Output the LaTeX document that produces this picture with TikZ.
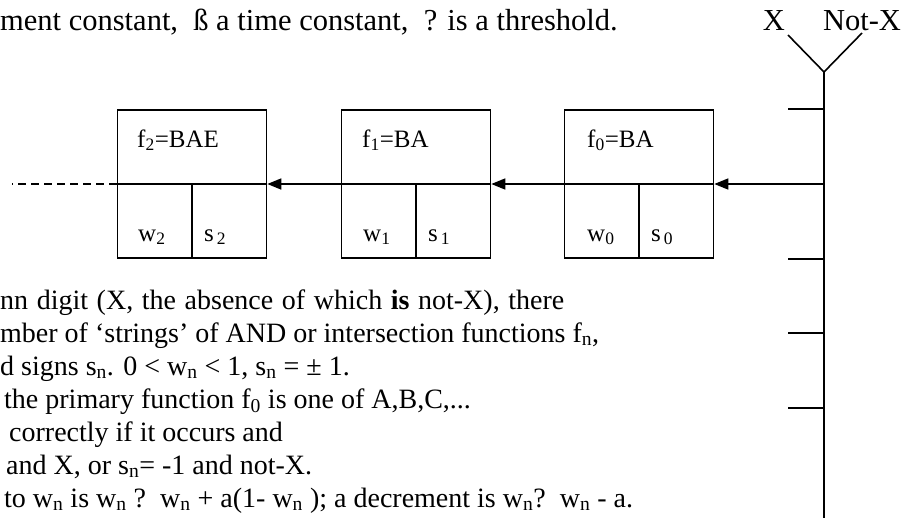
\documentclass[tikz,border=0pt]{standalone}
\usepackage{fontspec}
\setmainfont{Liberation Serif}
\usetikzlibrary{arrows.meta}
\tikzset{
  ln/.style={line width=1.6pt, black},
  fbox/.style={draw, line width=1.6pt, minimum width=149pt, minimum height=148pt, inner sep=0pt},
  arr/.style={ln, -{Triangle[length=14pt,width=11pt]}},
  boxlab/.style={anchor=base west, inner sep=0pt, font=\fontsize{25}{29}\selectfont},
  body/.style={anchor=base west, inner sep=0pt, font=\fontsize{28}{33}\selectfont},
  toptext/.style={anchor=base west, inner sep=0pt, font=\fontsize{30.5}{35}\selectfont},
}
\begin{document}
\begin{tikzpicture}[x=1pt,y=-1pt]
\useasboundingbox (0,0) rectangle (908,517);
\clip (0,0) rectangle (908,517);
% top text
\node[toptext] (t0) at (0,30) {ment constant,~~ß a time constant,~~? is a threshold.};
% Y junction
\coordinate (yj) at (824,72);
\coordinate (yl) at (788,35);
\coordinate (yr) at (862,33);
\coordinate (vb) at (824,520);
\node[toptext, anchor=base] (lx) at (774,30) {X};
\node[toptext, anchor=base] (lnx) at (862,30) {Not-X};
\draw[ln] (yl) -- (yj) -- (yr);
\draw[ln] (yj) -- (vb);
\foreach \yy/\nm in {109/a,184/b,259/c,333/d,408/e}{
  \coordinate (tk\nm) at (788,\yy);
  \coordinate (tv\nm) at (824,\yy);
  \draw[ln] (tk\nm) -- (tv\nm);
}
% boxes
\node[fbox] (f2) at (192,184) {};
\node[fbox] (f1) at (416,184) {};
\node[fbox] (f0) at (639,184) {};
\foreach \b in {f2,f1,f0}{
  \draw[ln] (\b.west) -- (\b.east);
  \draw[ln] (\b.center) -- (\b.south);
}
\node[boxlab] (l2) at (137,147) {f\textsubscript{2}=BAE};
\node[boxlab] (l1) at (362,147) {f\textsubscript{1}=BA};
\node[boxlab] (l0) at (587,147) {f\textsubscript{0}=BA};
\node[boxlab] (w2) at (138,241) {w\textsubscript{2}};
\node[boxlab] (s2) at (204,241) {s\textsubscript{\,2}};
\node[boxlab] (w1) at (363,241) {w\textsubscript{1}};
\node[boxlab] (s1) at (428,241) {s\textsubscript{\,1}};
\node[boxlab] (w0) at (587,241) {w\textsubscript{0}};
\node[boxlab] (s0) at (651,241) {s\textsubscript{\,0}};
% arrows
\draw[arr] (tvb) -- (f0.east);
\draw[arr] (f0.west) -- (f1.east);
\draw[arr] (f1.west) -- (f2.east);
\coordinate (dend) at (12,184);
\draw[ln, dash pattern=on 8pt off 5pt] (f2.west) -- (dend);
% bottom text
\node[body] (b1) at (0,309) {\spaceskip=8.6pt nn digit (X, the absence of which \textbf{is} not-X), there};
\node[body] (b2) at (0,342) {mber of ‘strings’ of AND or intersection functions f\textsubscript{n},};
\node[body] (b3) at (0,375) {d signs s\textsubscript{n}. 0 < w\textsubscript{n} < 1, s\textsubscript{n} = ± 1.};
\node[body] (b4) at (4,408) {the primary function f\textsubscript{0} is one of A,B,C,...};
\node[body] (b5) at (9,441) {correctly if it occurs and};
\node[body] (b6) at (6,474) {and X, or s\textsubscript{n}= -1 and not-X.};
\node[body] (b7) at (4,507) {to w\textsubscript{n} is w\textsubscript{n} ?~~w\textsubscript{n} + a(1- w\textsubscript{n} ); a decrement is w\textsubscript{n}?~~w\textsubscript{n} - a.};
\end{tikzpicture}
\end{document}
